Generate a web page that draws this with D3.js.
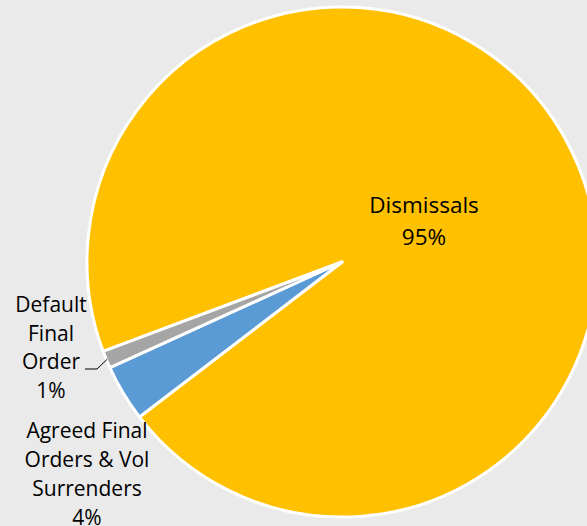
<!DOCTYPE html>
<html><head><meta charset="utf-8">
<script src="https://cdn.jsdelivr.net/npm/d3@7"></script>
<style>html,body{margin:0;padding:0;background:#EAEAEA;}svg{display:block;}</style>
</head><body>
<svg id="chart" width="587" height="526"></svg>
<script>
const categories = ["Dismissals", "Agreed Final Orders & Vol Surrenders", "Default Final Order"];
const values = [95.3, 3.6, 1.1];
const percentLabels = ["95%", "4%", "1%"];
const colors = ["#FFC000", "#5B9BD5", "#A5A5A5"];

const W = 587, H = 526;
const svg = d3.select("#chart");
svg.append("rect").attr("width", W).attr("height", H).attr("fill", "#EAEAEA");

const cx = 342, cy = 262, R = 255;
const start = -110.5 * Math.PI / 180;
const pie = d3.pie().sort(null).startAngle(start).endAngle(start + 2 * Math.PI);
const arcs = pie(values);
const arc = d3.arc().innerRadius(0).outerRadius(R);

const g = svg.append("g").attr("transform", `translate(${cx},${cy})`);
g.selectAll("path").data(arcs).enter().append("path")
  .attr("d", arc)
  .attr("fill", (d, i) => colors[i])
  .attr("stroke", "#FFFFFF")
  .attr("stroke-width", 3)
  .attr("stroke-linejoin", "round");

const font = "'Open Sans', sans-serif";
const labelDefs = [
  { lines: [categories[0], percentLabels[0]], x: 424, y0: 213, dy: 32, size: 22.5 },
  { lines: ["Agreed Final", "Orders & Vol", "Surrenders", percentLabels[1]], x: 87, y0: 438, dy: 29, size: 21 },
  { lines: ["Default", "Final", "Order", percentLabels[2]], x: 51, y0: 312, dy: 28.5, size: 21 }
];
labelDefs.forEach(l => {
  const t = svg.append("text").attr("font-family", font).attr("font-size", l.size)
    .attr("fill", "#000").attr("text-anchor", "middle");
  l.lines.forEach((s, i) => {
    t.append("tspan").attr("x", l.x).attr("y", l.y0 + i * l.dy).text(s);
  });
});

// leader line for Default Final Order
const dflt = arcs[2];
const mid = (dflt.startAngle + dflt.endAngle) / 2;
const px = cx + Math.sin(mid) * (R - 1), py = cy - Math.cos(mid) * (R - 1);
svg.append("polyline")
  .attr("points", `85,369 97,369 ${px},${py}`)
  .attr("fill", "none").attr("stroke", "#000").attr("stroke-width", 1);
</script>
</body></html>
